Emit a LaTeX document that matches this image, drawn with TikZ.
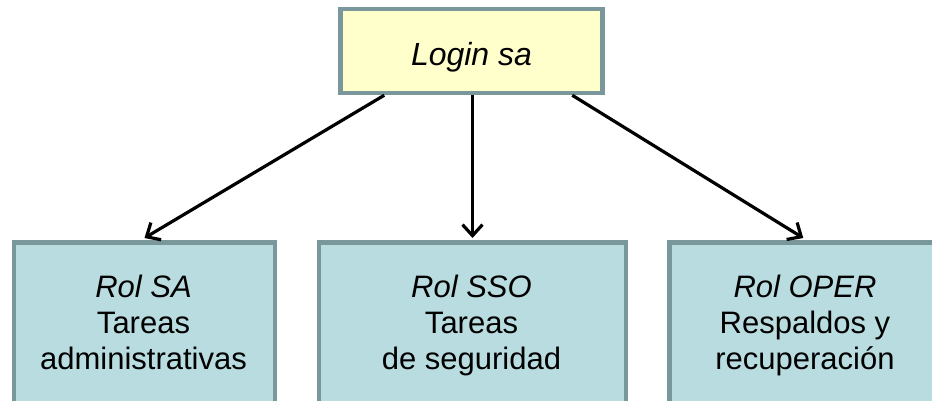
\documentclass[tikz,border=0pt]{standalone}
\usepackage{fontspec}
\setmainfont{Liberation Sans}
\usetikzlibrary{arrows.meta,calc}
\definecolor{boxblue}{RGB}{184,220,224}
\definecolor{boxedge}{RGB}{122,152,156}
\definecolor{boxyellow}{RGB}{255,255,204}
\tikzset{
  rolebox/.style={draw=boxedge, line width=4.5pt, fill=boxblue, inner sep=0pt, minimum height=210pt, anchor=north},
  topbox/.style={draw=boxedge, line width=4.5pt, fill=boxyellow, inner sep=0pt, minimum width=262pt, minimum height=84pt},
  roletext/.style={align=center, font=\fontsize{31}{36}\selectfont, inner sep=0pt, anchor=base},
  conn/.style={line width=3.2pt, -{Straight Barb[length=11pt,width=20pt,line width=3.2pt]}}
}
\begin{document}
\begin{tikzpicture}[x=1pt,y=-1pt]
\useasboundingbox (0,0) rectangle (932,400);
\clip (0,0) rectangle (932,400);
\node[topbox] (top) at (471.5,51) {};
\node[font=\fontsize{32}{36}\selectfont\itshape, inner sep=0pt, anchor=base] (toptxt) at (471.5,65) {Login sa};
\node[rolebox, minimum width=261pt] (l) at (144.5,240) {};
\node[rolebox, minimum width=307pt] (m) at (472.5,240) {};
\node[rolebox, minimum width=272pt] (r) at (805.5,240) {};
\node[roletext] (lt) at (143.5,369) {\textit{Rol SA}\\Tareas\\administrativas};
\node[roletext] (mt) at (471.5,369) {\textit{Rol SSO}\\Tareas\\de seguridad};
\node[roletext] (rt) at (805,369) {\textit{Rol OPER}\\Respaldos y\\recuperación};
\coordinate (la) at ($(top.south west)+(46,0)$);
\coordinate (ra) at ($(top.south west)+(234,0)$);
\coordinate (le) at ($(l.north)+(0,-2)$);
\coordinate (re) at ($(r.north west)+(136,-2)$);
\draw[conn] (la) -- (le);
\draw[conn] (top.south -| m.north) -- ($(m.north)+(0,-2)$);
\draw[conn] (ra) -- (re);
\end{tikzpicture}
\end{document}
